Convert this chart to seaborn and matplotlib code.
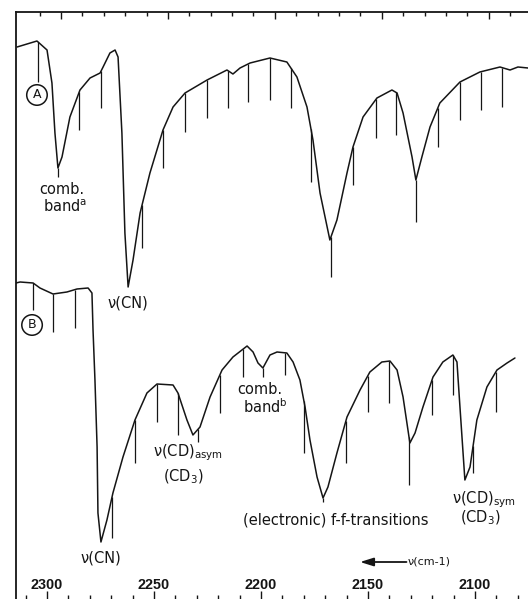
import numpy as np
import matplotlib
matplotlib.use("Agg")
import matplotlib.pyplot as plt
import seaborn as sns

# ======================================
# Data
# ======================================

# spectrum A: wavenumber (cm-1) and signal (a.u.)
wn_a = [2314.0, 2304.7, 2300.0, 2297.7, 2296.3, 2294.9, 2293.0, 2289.3, 2284.6, 2279.9,
        2275.2, 2273.8, 2270.6, 2268.2, 2266.8, 2265.0, 2263.6, 2262.1, 2259.8, 2256.5,
        2251.9, 2245.8, 2241.1, 2235.5, 2225.2, 2215.9, 2213.1, 2209.8, 2205.1, 2195.8,
        2187.9, 2183.2, 2178.5, 2175.7, 2172.4, 2167.8, 2164.5, 2159.8, 2157.0, 2152.3,
        2145.8, 2138.8, 2136.4, 2133.6, 2129.4, 2127.6, 2124.8, 2121.0, 2116.4, 2107.0,
        2097.7, 2088.3, 2083.6, 2079.9, 2075.2]
sig_a = [552, 558, 549, 516, 466, 431, 442, 482, 509, 521,
         526, 532, 546, 549, 542, 466, 366, 312, 339, 386,
         426, 469, 492, 506, 519, 529, 525, 531, 536, 541,
         537, 522, 492, 459, 406, 359, 379, 426, 452, 482,
         501, 509, 506, 486, 442, 419, 442, 472, 496, 517,
         527, 532, 529, 532, 531]

# spectrum B
wn_b = [2314.5, 2312.6, 2306.5, 2303.3, 2297.2, 2290.7, 2286.0, 2280.8, 2279.0, 2278.5,
        2277.6, 2276.6, 2276.2, 2274.8, 2272.0, 2269.2, 2264.5, 2258.9, 2253.3, 2248.6,
        2241.1, 2238.8, 2234.6, 2231.8, 2228.5, 2223.8, 2218.2, 2213.1, 2206.5, 2203.7,
        2201.4, 2199.1, 2195.8, 2192.5, 2187.9, 2185.0, 2181.8, 2179.4, 2177.1, 2173.8,
        2171.0, 2168.7, 2164.5, 2159.8, 2153.7, 2149.1, 2143.5, 2139.7, 2136.4, 2133.6,
        2130.4, 2128.0, 2124.3, 2119.6, 2115.0, 2110.3, 2108.4, 2107.0, 2104.7, 2102.3,
        2099.1, 2094.4, 2089.7, 2085.0, 2081.3]
sig_b = [316, 317, 316, 311, 305, 307, 310, 311, 306, 269,
         219, 152, 86, 57, 79, 106, 142, 179, 206, 215,
         214, 206, 179, 164, 172, 202, 229, 242, 253, 247,
         236, 231, 244, 247, 246, 237, 219, 192, 159, 122,
         101, 112, 146, 182, 209, 227, 237, 238, 229, 202,
         156, 166, 192, 222, 237, 244, 237, 192, 119, 132,
         179, 212, 229, 236, 241]

# marker lines hanging from the traces (position, lower end)
mk_a_wn = [2304.2, 2294.9, 2285.0, 2274.8, 2255.6, 2245.8, 2235.5, 2225.2, 2215.4, 2206.1, 2195.8,
           2186.0, 2176.6, 2167.3, 2157.0, 2146.3, 2136.9, 2127.6, 2117.3, 2107.0, 2097.2, 2087.4]
mk_a_end = [517, 422, 469, 491, 351, 431, 467, 481, 491, 497, 499,
            491, 417, 322, 414, 461, 464, 377, 452, 479, 489, 492]
mk_b_wn = [2306.5, 2297.2, 2286.9, 2269.6, 2258.9, 2248.6, 2238.8, 2229.4, 2219.2, 2208.4, 2199.1,
           2188.8, 2179.9, 2171.0, 2160.3, 2150.0, 2140.2, 2130.8, 2120.1, 2110.3, 2100.9, 2090.2]
mk_b_end = [289, 267, 271, 61, 136, 177, 164, 157, 186, 222, 222,
            224, 146, 97, 136, 187, 196, 114, 184, 204, 126, 187]

# axis ticks
major_ticks = [2300, 2250, 2200, 2150, 2100]
major_labels = ["2300", "2250", "2200", "2150", "2100"]
minor_ticks = list(range(2310, 2079, -10))
top_major = [2293.5, 2243.5, 2193.5, 2143.5, 2093.5]
top_minor = [2303.5 - 10 * i for i in range(23)]

# ======================================
# Figure
# ======================================

sns.set_style("white")
plt.rcParams["font.family"] = ["DejaVu Sans"]
ink = "#151515"

fig = plt.figure(figsize=(5.28, 5.99), dpi=100)
ax = fig.add_axes([16 / 528, 0.0, 512 / 528, 587 / 599])

sns.lineplot(x=wn_a, y=sig_a, sort=False, color=ink, lw=1.1, ax=ax)
sns.lineplot(x=wn_b, y=sig_b, sort=False, color=ink, lw=1.1, ax=ax)

top_a = np.interp(mk_a_wn, wn_a[::-1], sig_a[::-1])
top_b = np.interp(mk_b_wn, wn_b[::-1], sig_b[::-1])
ax.vlines(mk_a_wn, mk_a_end, top_a, color=ink, lw=0.9)
ax.vlines(mk_b_wn, mk_b_end, top_b, color=ink, lw=0.9)

ax.set_xlim(2314.5, 2075.2)
ax.set_ylim(0, 587)
ax.set_yticks([])

# bottom axis: ticks pointing up, labels inside the frame
ax.set_xticks(major_ticks)
ax.set_xticklabels(major_labels, family=["Liberation Sans", "DejaVu Sans"],
                   fontweight="bold")
ax.set_xticks(minor_ticks, minor=True)
ax.tick_params(axis="x", which="major", direction="in", length=6, width=1.0,
               pad=-15, labelsize=10.4, colors=ink, bottom=True, top=False)
ax.tick_params(axis="x", which="minor", direction="in", length=3, width=1.0,
               bottom=True, top=False, colors=ink)

for side in ["bottom", "right"]:
    ax.spines[side].set_visible(False)
for side in ["left", "top"]:
    ax.spines[side].set_color(ink)
    ax.spines[side].set_linewidth(1.3)

# top axis ticks (chart paper scale)
ax2 = ax.twiny()
ax2.set_xlim(ax.get_xlim())
ax2.set_xticks(top_major)
ax2.set_xticks(top_minor, minor=True)
ax2.set_xticklabels([])
ax2.tick_params(axis="x", which="major", direction="in", length=5, width=1.0,
                top=True, bottom=False, colors=ink)
ax2.tick_params(axis="x", which="minor", direction="in", length=3, width=1.0,
                top=True, bottom=False, colors=ink)
for side in ax2.spines:
    ax2.spines[side].set_visible(False)

# ======================================
# Annotations
# ======================================

fs = 10.5
circ = dict(boxstyle="circle,pad=0.3", fc="white", ec=ink, lw=1.1)
ax.text(2304.7, 504, "A", ha="center", va="center", fontsize=9, color=ink, bbox=circ)
ax.text(2307.0, 274, "B", ha="center", va="center", fontsize=9, color=ink, bbox=circ)

ax.text(2293.0, 410, "comb.", ha="center", va="center", fontsize=fs, color=ink)
ax.text(2291.6, 392, r"band$^{\mathrm{a}}$", ha="center", va="center", fontsize=fs, color=ink)
ax.text(2262.1, 296, "ν(CN)", ha="center", va="center", fontsize=fs, color=ink)

ax.text(2250.5, 146, r"ν(CD)$_{\mathrm{asym}}$", ha="left", va="center", fontsize=fs, color=ink)
ax.text(2245.8, 122, r"(CD$_3$)", ha="left", va="center", fontsize=fs, color=ink)
ax.text(2200.5, 209, "comb.", ha="center", va="center", fontsize=fs, color=ink)
ax.text(2198.1, 192, r"band$^{\mathrm{b}}$", ha="center", va="center", fontsize=fs, color=ink)
ax.text(2165.0, 79, "(electronic) f-f-transitions", ha="center", va="center",
        fontsize=fs, color=ink)
ax.text(2095.8, 99, r"ν(CD)$_{\mathrm{sym}}$", ha="center", va="center", fontsize=fs, color=ink)
ax.text(2097.7, 81, r"(CD$_3$)", ha="center", va="center", fontsize=fs, color=ink)
ax.text(2274.8, 41, "ν(CN)", ha="center", va="center", fontsize=fs, color=ink)

ax.annotate("", xy=(2153.7, 37), xytext=(2132.0, 37),
            arrowprops=dict(arrowstyle="-|>,head_length=0.8,head_width=0.25",
                            color=ink, lw=1.3, shrinkA=0, shrinkB=0))
ax.text(2131.5, 37, "ν(cm-1)", ha="left", va="center", fontsize=8, color=ink)

fig.savefig("out.png", dpi=100)
